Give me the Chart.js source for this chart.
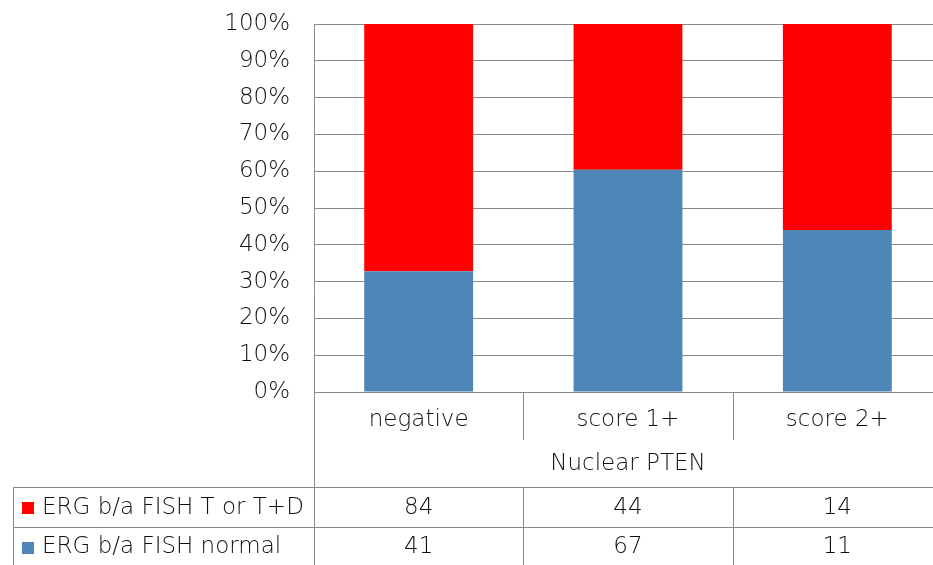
<!DOCTYPE html>
<html>
<head>
<meta charset="utf-8">
<script src="https://cdn.jsdelivr.net/npm/chart.js@4/dist/chart.umd.min.js"></script>
<style>
  html, body { margin: 0; padding: 0; background: #ffffff; overflow: hidden; }
  #wrap { position: relative; width: 945px; height: 565px; }
</style>
</head>
<body>
<div id="wrap"><canvas id="c" width="945" height="565"></canvas></div>
<script>
// Nuclear PTEN groups and ERG break-apart FISH counts
const categories = ["negative", "score 1+", "score 2+"];
const seriesNames = ["ERG b/a FISH T or T+D", "ERG b/a FISH normal"];
const countsTranslocated = [84, 44, 14];
const countsNormal = [41, 67, 11];
const yTickLabels = ["0%", "10%", "20%", "30%", "40%", "50%", "60%", "70%", "80%", "90%", "100%"];
const axisTitle = "Nuclear PTEN";

const RED = "#ff0000";
const BLUE = "#4f86b8";
const LINE = "#8a8a8a";
const TEXT = "#111111";
const FONT = "DejaVu Sans";
const FS = 23;
const FW = 200;

// share of each group, stacked to 100%
const totals = categories.map((_, i) => countsTranslocated[i] + countsNormal[i]);
const pctNormal = countsNormal.map((v, i) => v / totals[i] * 100);
const pctTransl = countsTranslocated.map((v, i) => v / totals[i] * 100);

// data table under the plot: row labels with swatches, counts per column, separators
const tablePlugin = {
  id: "dataTable",
  afterDraw(chart) {
    const ctx = chart.ctx;
    const xs = chart.scales.x;
    const area = chart.chartArea;
    const H = chart.height;
    const rowTop = 487, rowMid = 527, rowBot = 566;
    const tableLeft = 13;
    const n = categories.length;
    const half = (xs.getPixelForValue(1) - xs.getPixelForValue(0)) / 2;
    const bounds = [];
    for (let i = 0; i <= n; i++) bounds.push(xs.getPixelForValue(i) - half);

    ctx.save();
    ctx.strokeStyle = LINE;
    ctx.lineWidth = 1;
    const line = (x1, y1, x2, y2) => {
      ctx.beginPath(); ctx.moveTo(x1, y1); ctx.lineTo(x2, y2); ctx.stroke();
    };
    // left border of plot and table
    line(Math.round(area.left) + 0.5, area.top, Math.round(area.left) + 0.5, H);
    // column separators in category row and data rows
    for (let i = 1; i < n; i++) {
      const x = Math.round(bounds[i]) + 0.5;
      line(x, area.bottom, x, 440);
      line(x, rowTop, x, H);
    }
    // row rules
    line(tableLeft, rowTop + 0.5, chart.width, rowTop + 0.5);
    line(tableLeft, rowMid + 0.5, chart.width, rowMid + 0.5);
    line(tableLeft + 0.5, rowTop, tableLeft + 0.5, H);

    const rows = [
      { name: seriesNames[0], color: RED, values: countsTranslocated, y: (rowTop + rowMid) / 2 + 1 },
      { name: seriesNames[1], color: BLUE, values: countsNormal, y: (rowMid + rowBot) / 2 + 1 }
    ];
    ctx.font = FW + " " + FS + "px '" + FONT + "'";
    ctx.textBaseline = "middle";
    rows.forEach(r => {
      ctx.fillStyle = r.color;
      ctx.fillRect(22, Math.round(r.y - 6), 12, 12);
      ctx.fillStyle = TEXT;
      ctx.textAlign = "left";
      ctx.fillText(r.name, 42, r.y);
      ctx.textAlign = "center";
      r.values.forEach((v, i) => ctx.fillText(String(v), xs.getPixelForValue(i), r.y));
    });
    ctx.restore();
  }
};

const font = { family: FONT, size: FS, weight: FW };

new Chart(document.getElementById("c"), {
  type: "bar",
  data: {
    labels: categories,
    datasets: [
      { label: seriesNames[1], data: pctNormal, backgroundColor: BLUE, borderWidth: 0 },
      { label: seriesNames[0], data: pctTransl, backgroundColor: RED, borderWidth: 0 }
    ]
  },
  options: {
    responsive: false,
    animation: false,
    layout: { padding: { top: 24, left: 0, right: 3, bottom: 0 } },
    datasets: { bar: { categoryPercentage: 1, barPercentage: 0.52 } },
    plugins: { legend: { display: false }, tooltip: { enabled: false } },
    scales: {
      x: {
        stacked: true,
        afterFit: s => { s.height = 173; },
        grid: { display: false },
        border: { display: true, color: LINE, width: 1 },
        ticks: { color: TEXT, font, padding: 6, maxRotation: 0 },
        title: { display: true, text: axisTitle, color: TEXT, font, padding: { top: 0, bottom: 87 } }
      },
      y: {
        stacked: true,
        min: 0, max: 100,
        afterFit: s => { s.width = 314; },
        grid: { color: LINE, drawTicks: true, tickLength: 24, tickColor: "rgba(0,0,0,0)" },
        border: { display: false },
        ticks: {
          stepSize: 10,
          padding: 0,
          color: TEXT,
          font,
          callback: (v) => yTickLabels[Math.round(v / 10)]
        }
      }
    }
  },
  plugins: [tablePlugin]
});
</script>
</body>
</html>
